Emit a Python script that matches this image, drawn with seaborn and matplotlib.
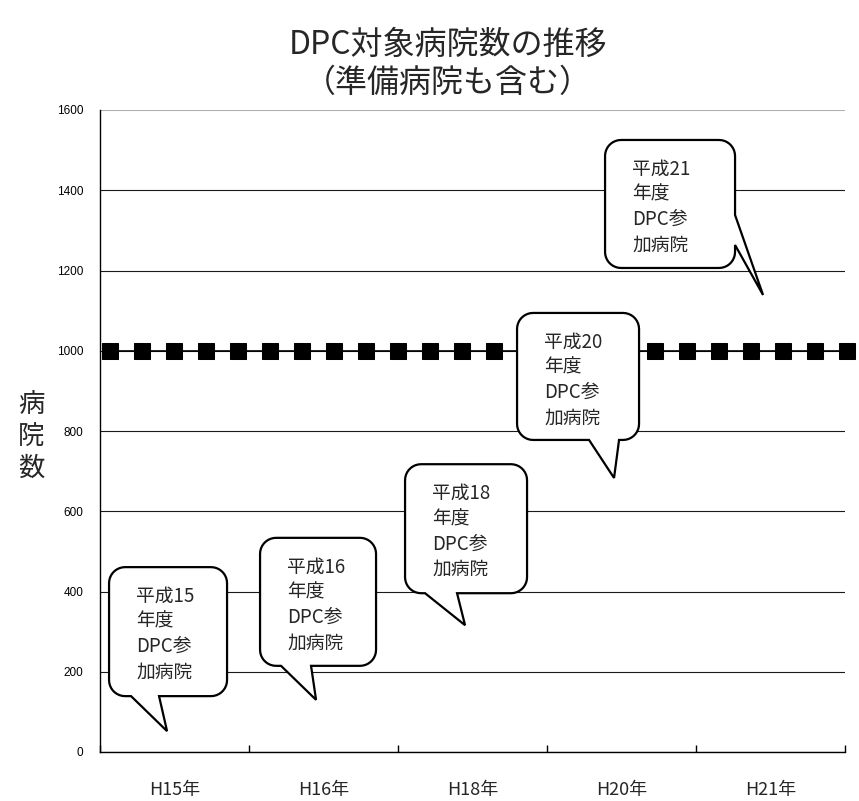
import numpy as np
import pandas as pd
import seaborn as sns
import matplotlib
matplotlib.use("Agg")
import matplotlib.pyplot as plt
from matplotlib.path import Path
from matplotlib.patches import PathPatch

# ---- data -------------------------------------------------------------
years = ["H15年", "H16年", "H18年", "H20年", "H21年"]
heisei_years = ["15", "16", "18", "20", "21"]
# values the callout pointers aim at (hospital counts)
callout_targets = [52, 130, 316, 683, 1139]
# reference line of 1000 hospitals, drawn as a marker series
line_values = [1000, 1000, 1000, 1000, 1000, 1000, 1000, 1000,
               1000, 1000, 1000, 1000, 1000, 1000, 1000, 1000,
               1000, 1000, 1000, 1000, 1000, 1000, 1000, 1000]
y_ticks = [0, 200, 400, 600, 800, 1000, 1200, 1400, 1600]

# ---- style ------------------------------------------------------------
sns.set_style("white")
plt.rcParams["font.family"] = ["Noto Sans CJK JP", "DejaVu Sans"]

W, H = 859, 801
fig = plt.figure(figsize=(W / 100, H / 100), dpi=100)
ax = fig.add_axes([100 / W, 49 / H, 745 / W, 642 / H])

ax.set_xlim(-0.5, len(years) - 0.5)
ax.set_ylim(0, 1600)

# y axis
ax.set_yticks(y_ticks)
ax.set_yticklabels([str(v) for v in y_ticks], fontsize=8.5,
                   family=["Liberation Sans", "DejaVu Sans"])
ax.tick_params(axis="y", direction="out", length=3, width=1, pad=9, colors="black")
ax.yaxis.grid(True, color="#1a1a1a", lw=0.8)
ax.get_ygridlines()[-1].set_color("#b0b0b0")
ax.set_axisbelow(True)

# x axis: boundaries as ticks, category names centred between them
ax.set_xticks(np.arange(-0.5, len(years), 1.0))
ax.set_xticklabels([])
ax.set_xticks(np.arange(len(years)), minor=True)
ax.set_xticklabels(years, minor=True, fontsize=13)
ax.tick_params(axis="x", which="major", direction="in", length=5, width=1, colors="black")
ax.tick_params(axis="x", which="minor", length=0, pad=21)

for s in ["top", "right"]:
    ax.spines[s].set_visible(False)
for s in ["left", "bottom"]:
    ax.spines[s].set_color("black")
    ax.spines[s].set_linewidth(1)

# ---- 1000 line with square markers ------------------------------------
ax2 = ax.twiny()
df_line = pd.DataFrame({"pos": np.arange(len(line_values)), "value": line_values})
sns.lineplot(data=df_line, x="pos", y="value", ax=ax2, color="black", lw=1.2,
             marker="s", markersize=11.5, markeredgecolor="black", clip_on=False)
ax2.set_xlim(-0.31, 22.94)
ax2.set_xticks([])
ax2.set_xlabel("")
ax2.set_ylabel("")
for s in ax2.spines.values():
    s.set_visible(False)

# ---- titles -----------------------------------------------------------
fig.text(448 / W, 1 - 45 / H, "DPC対象病院数の推移", ha="center", va="center", fontsize=23)
fig.text(448 / W, 1 - 83 / H, "（準備病院も含む）", ha="center", va="center", fontsize=23)

# vertical y label
for i, ch in enumerate("病院数"):
    fig.text(31 / W, 1 - (404 + 32 * i) / H, ch, ha="center", va="center", fontsize=19)

# ---- callouts ---------------------------------------------------------
# box edges relative to the pointer tip (pixels, y up), tail side and base span
callout_layout = [
    dict(box=(-58, 60, 164, 35), side="bottom", base=(-36, -8)),
    dict(box=(-56, 60, 162, 34), side="bottom", base=(-35, -5)),
    dict(box=(-60, 62, 161, 32), side="bottom", base=(-40, -8)),
    dict(box=(-97, 25, 165, 38), side="bottom", base=(-25, 5)),
    dict(box=(-158, -28, 155, 27), side="right", base=(50, 80)),
]


def arc(cx, cy, r, a0, a1, n=10):
    t = np.radians(np.linspace(a0, a1, n))
    return list(zip(cx + r * np.cos(t), cy + r * np.sin(t)))


def callout_outline(tx, ty, box, side, base, r=16):
    x0, x1 = tx + box[0], tx + box[1]
    y1, y0 = ty + box[2], ty + box[3]
    pts = [(x0 + r, y0)]
    if side == "bottom":
        pts += [(tx + base[0], y0), (tx, ty), (tx + base[1], y0)]
    pts.append((x1 - r, y0))
    pts += arc(x1 - r, y0 + r, r, -90, 0)
    if side == "right":
        pts += [(x1, ty + base[0]), (tx, ty), (x1, ty + base[1])]
    pts.append((x1, y1 - r))
    pts += arc(x1 - r, y1 - r, r, 0, 90)
    pts.append((x0 + r, y1))
    pts += arc(x0 + r, y1 - r, r, 90, 180)
    pts.append((x0, y0 + r))
    pts += arc(x0 + r, y0 + r, r, 180, 270)
    pts.append(pts[0])
    return np.array(pts), x0, y1


for i, (yr, target, lay) in enumerate(zip(heisei_years, callout_targets, callout_layout)):
    tx, ty = ax.transData.transform((i - 0.05, target))
    verts, bx0, by1 = callout_outline(tx, ty, lay["box"], lay["side"], lay["base"])
    verts = verts / np.array([W, H])
    codes = [Path.MOVETO] + [Path.LINETO] * (len(verts) - 2) + [Path.CLOSEPOLY]
    patch = PathPatch(Path(verts, codes), facecolor="white", edgecolor="black",
                      lw=1.6, joinstyle="miter", zorder=5)
    fig.add_artist(patch)
    lines = [f"平成{yr}", "年度", "DPC参", "加病院"]
    for k, txt in enumerate(lines):
        fig.text((bx0 + 27) / W, (by1 - 29 - 25.3 * k) / H, txt,
                 ha="left", va="center", fontsize=13.5, zorder=6)

fig.savefig("out.png", dpi=100)
